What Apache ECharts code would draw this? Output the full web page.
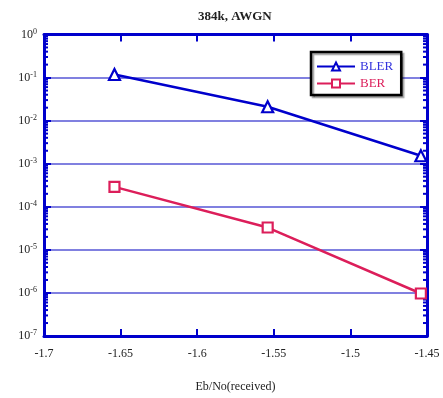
<!DOCTYPE html>
<html><head><meta charset="utf-8">
<script src="https://cdn.jsdelivr.net/npm/echarts@6/dist/echarts.min.js"></script>
<style>html,body{margin:0;padding:0;background:#fff}#c{width:443px;height:398px}</style>
</head><body><div id="c"></div>
<script>
var ebno = [-1.654, -1.554, -1.454];
var bler = [0.118, 0.021, 0.00153];
var ber = [2.9e-4, 3.3e-5, 9.7e-7];
var xTicks = [-1.7, -1.65, -1.6, -1.55, -1.5, -1.45];
var yMinExp = -7, yMaxExp = 0;

var AX = '#0000cc', GRID = '#8080e0', RED = '#dc1e5a';
var FONT = '"Liberation Serif", "Times New Roman", serif';

var minorVals = [];
for (var k = yMinExp; k < yMaxExp; k++) for (var m = 2; m <= 9; m++) minorVals.push([m * Math.pow(10, k)]);

function yLabel(v) {
  var e = Math.round(Math.log(v) / Math.LN10);
  return '{b|10}{s|' + e + '}';
}
var rich = {b: {fontFamily: FONT, fontSize: 12, color: '#222'}, s: {fontFamily: FONT, fontSize: 8, color: '#222', verticalAlign: 'top', padding: [0, 0, 6, 0]}};

var chart = echarts.init(document.getElementById('c'));
var axisX = {
  type: 'value', min: xTicks[0], max: xTicks[xTicks.length - 1], interval: 0.05,
  axisLine: {show: true, onZero: false, lineStyle: {color: AX, width: 3}},
  axisTick: {show: true, inside: true, length: 7, lineStyle: {color: AX, width: 2}},
  splitLine: {show: false}
};
var axisY = {
  type: 'log', logBase: 10, min: Math.pow(10, yMinExp), max: Math.pow(10, yMaxExp), interval: 1,
  axisLine: {show: true, lineStyle: {color: AX, width: 3}},
  axisTick: {show: true, inside: true, length: 7, lineStyle: {color: AX, width: 2}},
  splitLine: {show: false}
};
chart.setOption({
  animation: false,
  title: {text: '384k, AWGN', left: 193, top: 5, textStyle: {fontFamily: FONT, fontSize: 13, fontWeight: 'bold', color: '#222'}},
  grid: {left: 44, right: 16, top: 34.5, bottom: 58.5},
  legend: {
    left: 311, top: 52, orient: 'vertical', itemGap: 4, itemWidth: 38, itemHeight: 10,
    backgroundColor: '#fff', borderColor: '#000', borderWidth: 2.5, borderRadius: 0,
    padding: [8, 8, 5, 5],
    shadowColor: 'rgba(0,0,0,0.35)', shadowOffsetX: 2, shadowOffsetY: 2, shadowBlur: 1,
    textStyle: {fontFamily: FONT, fontSize: 13},
    data: [{name: 'BLER', textStyle: {color: '#3333dd'}}, {name: 'BER', textStyle: {color: RED}}]
  },
  xAxis: [
    Object.assign({}, axisX, {position: 'bottom',
      axisLabel: {show: true, margin: 12, fontFamily: FONT, fontSize: 12, color: '#222', formatter: function (v) { return String(+v.toFixed(2)); }},
      name: 'Eb/No(received)', nameLocation: 'middle', nameGap: 45,
      nameTextStyle: {fontFamily: FONT, fontSize: 12, color: '#222'}}),
    Object.assign({}, axisX, {position: 'top', axisLabel: {show: false}})
  ],
  yAxis: [
    Object.assign({}, axisY, {position: 'left',
      splitLine: {show: true, lineStyle: {color: GRID, width: 2}},
      axisLabel: {show: true, margin: 7, formatter: yLabel, rich: rich}}),
    Object.assign({}, axisY, {position: 'right', axisLabel: {show: false}})
  ],
  series: [
    {
      type: 'custom', silent: true, xAxisIndex: 0, yAxisIndex: 0, data: minorVals, z: 1,
      encode: {y: 0},
      renderItem: function (params, api) {
        var v = api.value(0);
        var l = api.coord([xTicks[0], v]);
        var r = api.coord([xTicks[xTicks.length - 1], v]);
        return {type: 'group', children: [
          {type: 'line', shape: {x1: l[0], y1: l[1], x2: l[0] + 4, y2: l[1]}, style: {stroke: AX, lineWidth: 2}},
          {type: 'line', shape: {x1: r[0], y1: r[1], x2: r[0] - 4, y2: r[1]}, style: {stroke: AX, lineWidth: 2}}
        ]};
      }
    },
    {
      name: 'BLER', type: 'line', data: ebno.map(function (x, i) { return [x, bler[i]]; }),
      symbol: 'triangle', symbolSize: 11, showAllSymbol: true,
      lineStyle: {color: AX, width: 2.5}, itemStyle: {color: '#fff', borderColor: AX, borderWidth: 2.2},
      z: 5
    },
    {
      name: 'BER', type: 'line', data: ebno.map(function (x, i) { return [x, ber[i]]; }),
      symbol: 'rect', symbolSize: 10, showAllSymbol: true,
      lineStyle: {color: RED, width: 2.5}, itemStyle: {color: '#fff', borderColor: RED, borderWidth: 2.2},
      z: 5
    }
  ]
});
</script></body></html>
